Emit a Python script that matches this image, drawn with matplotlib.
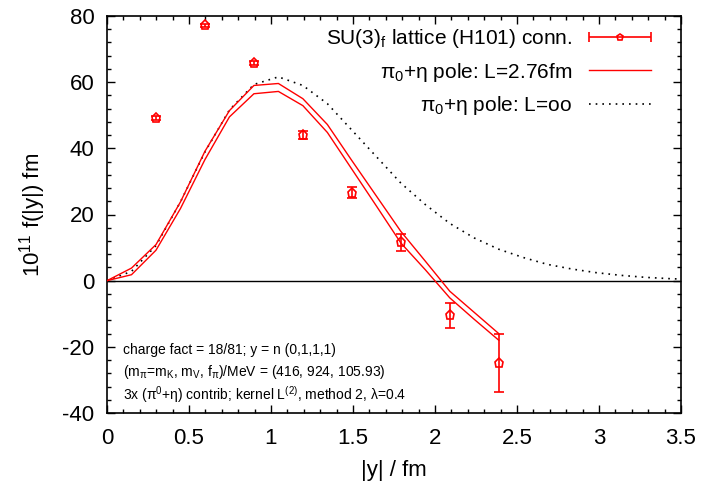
import numpy as np
import matplotlib
matplotlib.use("Agg")
import matplotlib.pyplot as plt
from matplotlib.lines import Line2D
from matplotlib.collections import LineCollection
from matplotlib.container import ErrorbarContainer
from matplotlib.legend_handler import HandlerErrorbar
from matplotlib.ticker import MultipleLocator, FuncFormatter

# --- fonts ---
plt.rcParams['font.family'] = ['Liberation Sans', 'DejaVu Sans']
plt.rcParams['mathtext.fontset'] = 'custom'
plt.rcParams['mathtext.rm'] = 'Liberation Sans'
plt.rcParams['mathtext.it'] = 'Liberation Sans:italic'
plt.rcParams['mathtext.bf'] = 'Liberation Sans:bold'
plt.rcParams['axes.unicode_minus'] = False

# --- data ---
# lattice points, |y| = n * 0.2986 fm
y_lat = [0.2986, 0.5972, 0.8958, 1.1944, 1.4930, 1.7916, 2.0902, 2.3888]
f_lat = [49.2, 77.2, 65.9, 44.0, 26.6, 11.6, -10.5, -24.8]
e_lat = [0.5, 0.5, 0.6, 1.2, 1.7, 2.5, 3.8, 8.8]

# finite volume pole curves (two edges of the band), |y| = n * 0.1493 fm
y_fv = [0.0, 0.1493, 0.2986, 0.4479, 0.5972, 0.7465, 0.8958, 1.0451, 1.1944,
        1.3437, 1.4930, 1.6423, 1.7916, 1.9409, 2.0902, 2.2395, 2.3888]
f_fv_hi = [0.0, 3.8, 10.9, 23.8, 39.1, 51.4, 59.0, 59.6, 55.0,
           47.2, 36.3, 25.6, 14.9, 5.9, -3.2, -9.6, -16.0]
f_fv_lo = [0.0, 1.8, 9.2, 21.8, 36.6, 49.5, 56.5, 57.2, 52.9,
           44.8, 33.7, 22.6, 11.4, 3.3, -5.2, -11.7, -18.0]

# infinite volume pole
y_inf = [0.0, 0.1493, 0.2986, 0.4479, 0.5972, 0.7465, 0.8958, 1.0451, 1.1944,
         1.3437, 1.4930, 1.6423, 1.7916, 1.9409, 2.0902, 2.2395, 2.3888,
         2.5381, 2.6874, 2.8367, 2.9860, 3.1353, 3.2846, 3.4339, 3.5832]
f_inf = [0.0, 2.8, 10.6, 23.8, 38.9, 51.6, 59.3, 61.6, 59.0,
         53.5, 45.5, 37.5, 29.5, 23.0, 17.3, 12.9, 9.5,
         7.0, 4.9, 3.5, 2.4, 1.6, 1.0, 0.6, 0.35]

notes = ["charge fact = 18/81; y = n (0,1,1,1)",
         r"(m$_{\mathrm{π}}$=m$_{\mathrm{K}}$, m$_{\mathrm{V}}$, f$_{\mathrm{π}}$)/MeV = (416, 924, 105.93)",
         r"3x (π$^{\mathrm{0}}$+η) contrib; kernel L$^{\mathrm{(2)}}$, method 2, λ=0.4"]

DOTS = (0, (1, 3))

# --- plot ---
fig = plt.figure(figsize=(7.03, 4.88), dpi=100)
ax = fig.add_axes([107/703, 75/488, 574/703, 397/488])

ax.axhline(0, color='black', lw=1.0, zorder=1)

ax.errorbar(y_lat, f_lat, yerr=e_lat, fmt='p', color='red', mfc='none',
            mec='red', ms=6.5, mew=1.2, capsize=3.5, elinewidth=1.2, capthick=1.2,
            zorder=4)
ax.plot(y_fv, f_fv_hi, color='red', lw=1.0, zorder=3)
ax.plot(y_fv, f_fv_lo, color='red', lw=1.0, zorder=3)
ax.plot(y_inf, f_inf, color='black', lw=1.2, linestyle=DOTS, zorder=2)

# legend proxies (gnuplot style: horizontal error bar sample)
p_line = Line2D([], [], color='red', marker='p', mfc='none', mec='red',
                ms=5, mew=1.2, lw=0)
p_cap = Line2D([], [], color='red', marker='|', ms=7, mew=1.2, lw=0)
p_bar = LineCollection([], colors='red', linewidths=1.2)
h_lat = ErrorbarContainer((p_line, (p_cap,), (p_bar,)),
                          has_xerr=True, has_yerr=False)
h_fv = Line2D([], [], color='red', lw=1.0)
h_inf = Line2D([], [], color='black', lw=1.2, linestyle=DOTS)

leg = ax.legend([h_lat, h_fv, h_inf],
                [r"SU(3)$_{\mathrm{f}}$ lattice (H101) conn.",
                 r"π$_{\mathrm{0}}$+η pole: L=2.76fm",
                 r"π$_{\mathrm{0}}$+η pole: L=oo"],
                handler_map={ErrorbarContainer: HandlerErrorbar(xerr_size=1.5)},
                loc='upper right', bbox_to_anchor=(0.948, 0.972),
                frameon=False, markerfirst=False, borderpad=0,
                borderaxespad=0, fontsize=15, handlelength=3.0,
                labelspacing=0.5, handletextpad=0.8)
for t in leg.get_texts():
    t.set_ha('right')

for i, s in enumerate(notes):
    ax.text(0.098, -20.9 - i * 6.8, s, fontsize=10, va='center', ha='left')

ax.set_xlim(0, 3.5)
ax.set_ylim(-40, 80)
ax.xaxis.set_major_locator(MultipleLocator(0.5))
ax.xaxis.set_minor_locator(MultipleLocator(0.1))
ax.yaxis.set_major_locator(MultipleLocator(20))
ax.yaxis.set_minor_locator(MultipleLocator(4))
fmt = FuncFormatter(lambda v, p: f"{v:g}")
ax.xaxis.set_major_formatter(fmt)
ax.yaxis.set_major_formatter(fmt)
ax.tick_params(which='both', direction='in', top=True, right=True,
               labelsize=16, width=1.0)
ax.tick_params(which='major', length=6)
ax.tick_params(axis='x', which='major', pad=11)
ax.tick_params(axis='y', which='major', pad=9)
ax.tick_params(which='minor', length=3)
for sp in ax.spines.values():
    sp.set_linewidth(1.2)

ax.set_xlabel("|y| / fm", fontsize=16, labelpad=8)
ax.set_ylabel(r"10$^{\mathrm{11}}$ f(|y|) fm", fontsize=16, labelpad=10)

fig.savefig("out.png", dpi=100)
